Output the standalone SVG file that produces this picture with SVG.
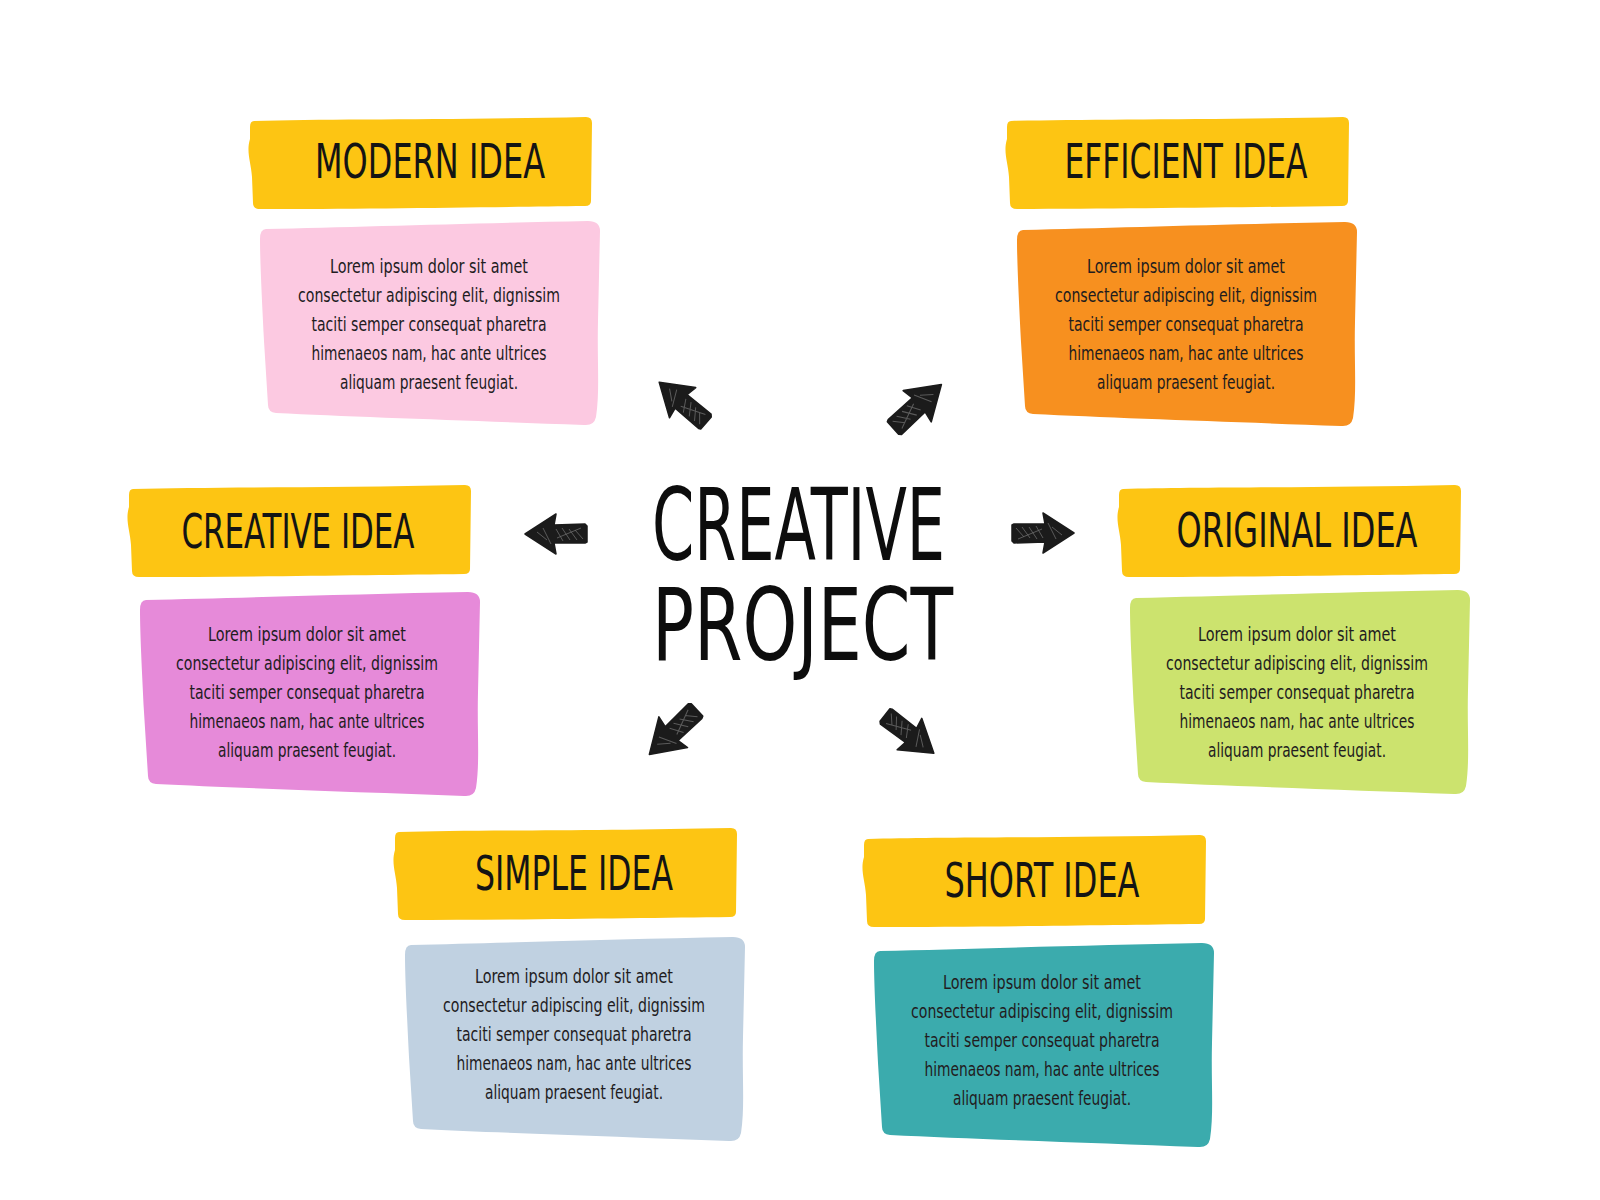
<svg xmlns="http://www.w3.org/2000/svg" xmlns:xlink="http://www.w3.org/1999/xlink" width="1600" height="1200" viewBox="0 0 1600 1200">
<style>
.ttl{font-family:"DejaVu Sans Condensed","DejaVu Sans","Liberation Sans",sans-serif;font-stretch:condensed;font-size:48px;fill:#141414;text-anchor:middle}
.bd{font-family:"DejaVu Sans Condensed","DejaVu Sans","Liberation Sans",sans-serif;font-stretch:condensed;font-size:20px;fill:#221c1e;text-anchor:middle}
.big{font-family:"DejaVu Sans Condensed","DejaVu Sans","Liberation Sans",sans-serif;font-stretch:condensed;font-size:100px;fill:#0d0d0d}
.hd{fill:#FDC513}
.arr{fill:#1b1b1b;stroke:#1b1b1b;stroke-width:1.5;stroke-linejoin:round}
.hatch{fill:none;stroke:#6a6a6a;stroke-width:1;opacity:0.8}
</style>
<defs>
<path id="hdr" d="M6,4 C80,2 200,3 338,0 Q344,0 344,6 L343,84 Q343,89 337,89 C250,90 120,92 12,92 Q5,92 5,86 L4,60 C3,45 -2,35 2,22 L2,10 Q2,4 6,4 Z"/>
<path id="bdy" d="M8,8 C100,6 220,2 330,0 Q342,0 342,10 L340,100 C339,140 342,170 338,196 Q336,205 326,204 C220,200 100,196 18,192 Q10,191 10,184 L6,120 C4,80 2,40 2,18 Q2,8 8,8 Z"/>
<g id="arrowshape">
<path class="arr" d="M0,-8 L2,-9 L33,-9 L31,-20 L62,0 L31,20 L33,9 L2,10 L0,8 Z"/>
<path class="hatch" d="M4,-5 L12,4 M10,-6 L18,5 M17,-6 L25,6 M24,-7 L31,5 M36,-10 L44,6 M40,-6 L50,2 M6,6 L30,-4"/>
</g>
</defs>
<rect x="0" y="0" width="1600" height="1200" fill="#ffffff"/>

<g id="center">
<text class="big" x="652" y="560" textLength="293" lengthAdjust="spacingAndGlyphs">CREATIVE</text>
<text class="big" x="652" y="660" textLength="301" lengthAdjust="spacingAndGlyphs">PROJECT</text>
</g>

<g id="connectors">
<use xlink:href="#arrowshape" transform="translate(587,534) rotate(180)"/>
<use xlink:href="#arrowshape" transform="translate(1012,533)"/>
<use xlink:href="#arrowshape" transform="translate(706,423) rotate(-139)"/>
<use xlink:href="#arrowshape" transform="translate(893,428) rotate(-42) scale(1.05)"/>
<use xlink:href="#arrowshape" transform="translate(697,710) rotate(137) scale(1.05)"/>
<use xlink:href="#arrowshape" transform="translate(885,715) rotate(38)"/>
</g>

<g id="modern">
<use xlink:href="#hdr" class="hd" x="248" y="117"/>
<use xlink:href="#bdy" x="258" y="221" fill="#FCC9E1"/>
<text class="ttl" x="430" y="178" textLength="230" lengthAdjust="spacingAndGlyphs">MODERN IDEA</text>
<text class="bd" x="429" y="273" textLength="198" lengthAdjust="spacingAndGlyphs">Lorem ipsum dolor sit amet</text>
<text class="bd" x="429" y="302" textLength="262" lengthAdjust="spacingAndGlyphs">consectetur adipiscing elit, dignissim</text>
<text class="bd" x="429" y="331" textLength="235" lengthAdjust="spacingAndGlyphs">taciti semper consequat pharetra</text>
<text class="bd" x="429" y="360" textLength="235" lengthAdjust="spacingAndGlyphs">himenaeos nam, hac ante ultrices</text>
<text class="bd" x="429" y="389" textLength="178" lengthAdjust="spacingAndGlyphs">aliquam praesent feugiat.</text>
</g>

<g id="efficient">
<use xlink:href="#hdr" class="hd" x="1005" y="117"/>
<use xlink:href="#bdy" x="1015" y="222" fill="#F7901F"/>
<text class="ttl" x="1186" y="178" textLength="243" lengthAdjust="spacingAndGlyphs">EFFICIENT IDEA</text>
<text class="bd" x="1186" y="273" textLength="198" lengthAdjust="spacingAndGlyphs">Lorem ipsum dolor sit amet</text>
<text class="bd" x="1186" y="302" textLength="262" lengthAdjust="spacingAndGlyphs">consectetur adipiscing elit, dignissim</text>
<text class="bd" x="1186" y="331" textLength="235" lengthAdjust="spacingAndGlyphs">taciti semper consequat pharetra</text>
<text class="bd" x="1186" y="360" textLength="235" lengthAdjust="spacingAndGlyphs">himenaeos nam, hac ante ultrices</text>
<text class="bd" x="1186" y="389" textLength="178" lengthAdjust="spacingAndGlyphs">aliquam praesent feugiat.</text>
</g>

<g id="creative">
<use xlink:href="#hdr" class="hd" x="127" y="485"/>
<use xlink:href="#bdy" x="138" y="592" fill="#E68AD9"/>
<text class="ttl" x="298" y="548" textLength="233" lengthAdjust="spacingAndGlyphs">CREATIVE IDEA</text>
<text class="bd" x="307" y="641" textLength="198" lengthAdjust="spacingAndGlyphs">Lorem ipsum dolor sit amet</text>
<text class="bd" x="307" y="670" textLength="262" lengthAdjust="spacingAndGlyphs">consectetur adipiscing elit, dignissim</text>
<text class="bd" x="307" y="699" textLength="235" lengthAdjust="spacingAndGlyphs">taciti semper consequat pharetra</text>
<text class="bd" x="307" y="728" textLength="235" lengthAdjust="spacingAndGlyphs">himenaeos nam, hac ante ultrices</text>
<text class="bd" x="307" y="757" textLength="178" lengthAdjust="spacingAndGlyphs">aliquam praesent feugiat.</text>
</g>

<g id="original">
<use xlink:href="#hdr" class="hd" x="1117" y="485"/>
<use xlink:href="#bdy" x="1128" y="590" fill="#CCE36E"/>
<text class="ttl" x="1297" y="547" textLength="241" lengthAdjust="spacingAndGlyphs">ORIGINAL IDEA</text>
<text class="bd" x="1297" y="641" textLength="198" lengthAdjust="spacingAndGlyphs">Lorem ipsum dolor sit amet</text>
<text class="bd" x="1297" y="670" textLength="262" lengthAdjust="spacingAndGlyphs">consectetur adipiscing elit, dignissim</text>
<text class="bd" x="1297" y="699" textLength="235" lengthAdjust="spacingAndGlyphs">taciti semper consequat pharetra</text>
<text class="bd" x="1297" y="728" textLength="235" lengthAdjust="spacingAndGlyphs">himenaeos nam, hac ante ultrices</text>
<text class="bd" x="1297" y="757" textLength="178" lengthAdjust="spacingAndGlyphs">aliquam praesent feugiat.</text>
</g>

<g id="simple">
<use xlink:href="#hdr" class="hd" x="393" y="828"/>
<use xlink:href="#bdy" x="403" y="937" fill="#C0D1E1"/>
<text class="ttl" x="574" y="890" textLength="198" lengthAdjust="spacingAndGlyphs">SIMPLE IDEA</text>
<text class="bd" x="574" y="983" textLength="198" lengthAdjust="spacingAndGlyphs">Lorem ipsum dolor sit amet</text>
<text class="bd" x="574" y="1012" textLength="262" lengthAdjust="spacingAndGlyphs">consectetur adipiscing elit, dignissim</text>
<text class="bd" x="574" y="1041" textLength="235" lengthAdjust="spacingAndGlyphs">taciti semper consequat pharetra</text>
<text class="bd" x="574" y="1070" textLength="235" lengthAdjust="spacingAndGlyphs">himenaeos nam, hac ante ultrices</text>
<text class="bd" x="574" y="1099" textLength="178" lengthAdjust="spacingAndGlyphs">aliquam praesent feugiat.</text>
</g>

<g id="short">
<use xlink:href="#hdr" class="hd" x="862" y="835"/>
<use xlink:href="#bdy" x="872" y="943" fill="#3BABAD"/>
<text class="ttl" x="1042" y="897" textLength="195" lengthAdjust="spacingAndGlyphs">SHORT IDEA</text>
<text class="bd" x="1042" y="989" textLength="198" lengthAdjust="spacingAndGlyphs">Lorem ipsum dolor sit amet</text>
<text class="bd" x="1042" y="1018" textLength="262" lengthAdjust="spacingAndGlyphs">consectetur adipiscing elit, dignissim</text>
<text class="bd" x="1042" y="1047" textLength="235" lengthAdjust="spacingAndGlyphs">taciti semper consequat pharetra</text>
<text class="bd" x="1042" y="1076" textLength="235" lengthAdjust="spacingAndGlyphs">himenaeos nam, hac ante ultrices</text>
<text class="bd" x="1042" y="1105" textLength="178" lengthAdjust="spacingAndGlyphs">aliquam praesent feugiat.</text>
</g>
</svg>
